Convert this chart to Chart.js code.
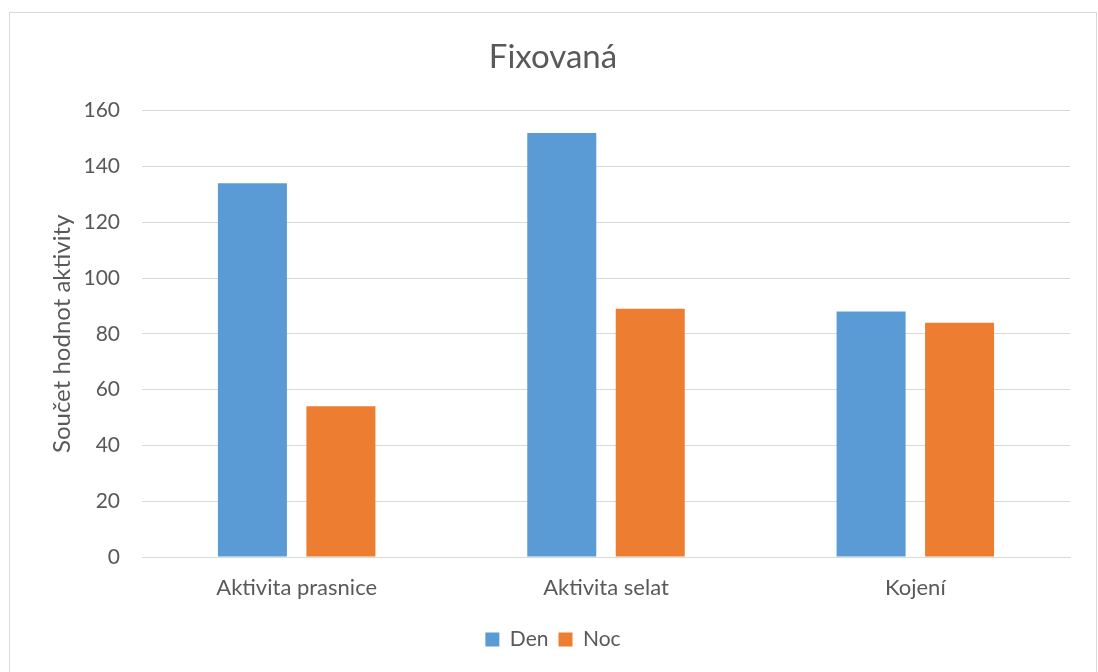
<!DOCTYPE html>
<html>
<head>
<meta charset="utf-8">
<script src="https://cdn.jsdelivr.net/npm/chart.js@4"></script>
<style>
html,body{margin:0;padding:0;background:#fff;}
#wrap{width:1098px;height:672px;position:relative;}
</style>
</head>
<body>
<div id="wrap"><canvas id="c" width="1098" height="672"></canvas></div>
<script>
const categories = ["Aktivita prasnice", "Aktivita selat", "Kojení"];
const denValues = [134, 152, 88];
const nocValues = [54, 89, 84];
const seriesNames = ["Den", "Noc"];
const chartTitle = "Fixovaná";
const yAxisTitle = "Součet hodnot aktivity";

const FONT = "Lato, 'Open Sans', sans-serif";
const TXT = "#595959";

const borderPlugin = {
  id: 'frame',
  beforeDraw(chart) {
    const ctx = chart.ctx;
    ctx.save();
    ctx.fillStyle = '#fff';
    ctx.fillRect(0, 0, chart.width, chart.height);
    ctx.strokeStyle = '#d9d9d9';
    ctx.lineWidth = 1;
    ctx.strokeRect(9.5, 12.5, 1087, 700);
    ctx.restore();
  }
};

new Chart(document.getElementById('c'), {
  type: 'bar',
  data: {
    labels: categories,
    datasets: [
      { label: seriesNames[0], data: denValues, backgroundColor: '#5B9BD5', borderWidth: 0 },
      { label: seriesNames[1], data: nocValues, backgroundColor: '#ED7D31', borderWidth: 0 }
    ]
  },
  options: {
    responsive: false,
    animation: false,
    devicePixelRatio: 1,
    categoryPercentage: 0.572,
    barPercentage: 0.78,
    layout: { padding: { left: 8, right: 0, top: 0, bottom: 12 } },
    plugins: {
      title: {
        display: true,
        text: chartTitle,
        color: TXT,
        font: { family: FONT, size: 33, weight: 'normal' },
        padding: { top: 38, bottom: 33 }
      },
      legend: {
        position: 'bottom',
        labels: {
          color: TXT,
          font: { family: FONT, size: 21 },
          boxWidth: 14,
          boxHeight: 14,
          padding: 10
        }
      },
      tooltip: { enabled: false }
    },
    scales: {
      x: {
        grid: { display: false, drawTicks: false },
        border: { display: true, color: '#d9d9d9', width: 1 },
        ticks: { color: TXT, font: { family: FONT, size: 22 }, padding: 18 },
        afterFit(scale) { scale.height = 62; }
      },
      y: {
        min: 0, max: 160,
        ticks: { stepSize: 20, color: TXT, font: { family: FONT, size: 21 }, padding: 22 },
        grid: { color: '#d9d9d9', lineWidth: 1, drawTicks: false },
        border: { display: false },
        title: {
          display: true,
          text: yAxisTitle,
          color: TXT,
          font: { family: FONT, size: 24 },
          padding: { top: 40, bottom: 0 }
        },
        afterFit(scale) { scale.width = 134; }
      },
      yRight: {
        position: 'right',
        display: true,
        grid: { display: false, drawTicks: false },
        border: { display: false },
        ticks: { display: false },
        afterFit(scale) { scale.width = 28; }
      }
    }
  },
  plugins: [borderPlugin]
});
</script>
</body>
</html>
